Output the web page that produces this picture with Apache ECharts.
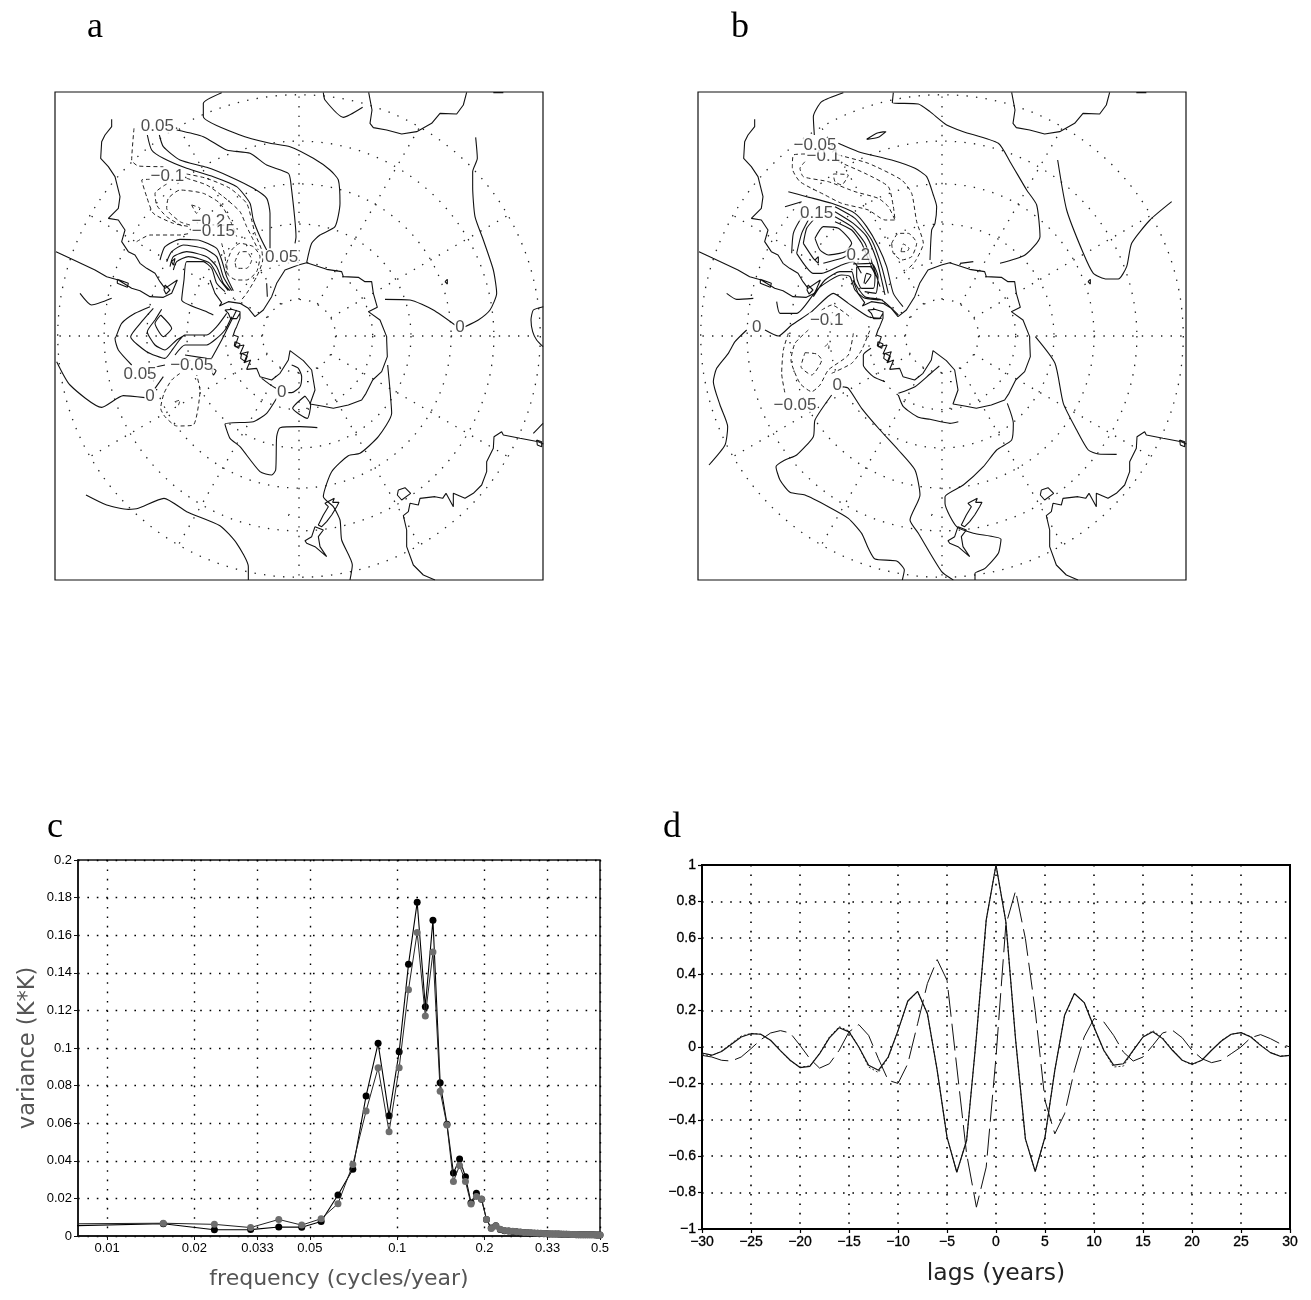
<!DOCTYPE html>
<html><head><meta charset="utf-8">
<style>html,body{margin:0;padding:0;background:#fff}#c{width:1311px;height:1300px}</style>
<script src="https://cdn.jsdelivr.net/npm/echarts@6/dist/echarts.min.js"></script>
</head><body><div id="c"></div>
<script>
// ---- Panels a, b: map plane coordinates (box spans 45..1509 x 36..1500, pole at 777,768)
const coast = [
 [[215,118],[215,140],[195,165],[185,185],[182,235],[205,260],[225,290],[240,350],[235,385],[205,415],[235,420],[255,450],[245,485],[265,515],[285,525],[300,550],[320,565],[345,580],[360,605],[375,625],[412,600],[395,640],[370,652],[330,650],[300,632],[275,625],[235,600],[200,590],[165,570],[90,535],[48,515]],
 [[232,598],[265,610],[262,622],[232,610],[232,598]],
 [[375,615],[390,630],[378,642],[372,630],[375,615]],
 [[510,600],[525,640],[545,668],[538,678],[565,665],[600,670],[625,685],[645,710],[670,690],[695,650],[710,610],[735,570],[775,555],[780,555],[800,548],[860,568],[905,575],[910,590],[955,592],[975,605],[995,605],[1000,640],[1012,682],[985,695],[1020,720],[1040,770],[1040,780],[1042,830],[1025,875],[998,900],[978,940],[965,960],[925,975],[880,985],[845,978],[810,972],[825,930],[815,870],[790,842],[750,812],[745,840],[720,880],[695,900],[660,890],[650,865],[620,868],[632,840],[612,848],[625,815],[600,822],[612,795],[585,800],[595,770],[580,765],[585,750],[590,740],[600,715],[600,695],[575,688],[555,690],[565,700],[572,716],[590,716],[600,700]],
 [[585,785],[600,792],[596,805],[583,797],[585,785]],
 [[605,820],[622,828],[616,845],[602,835],[605,820]],
 [[1510,1092],[1495,1085],[1440,1075],[1390,1065],[1385,1055],[1362,1070],[1360,1105],[1340,1145],[1340,1175],[1325,1215],[1300,1240],[1275,1255],[1240,1240],[1240,1280],[1218,1240],[1208,1255],[1185,1250],[1140,1255],[1135,1275],[1110,1270],[1105,1295],[1090,1307],[1100,1350],[1100,1400],[1120,1455],[1150,1485],[1185,1500]],
 [[1075,1230],[1095,1223],[1112,1240],[1085,1260],[1072,1245],[1075,1230]],
 [[1490,1080],[1505,1085],[1505,1100],[1492,1095],[1490,1080]],
 [[883,1255],[878,1267],[897,1267],[890,1280],[875,1305],[860,1325],[845,1340],[835,1335],[850,1305],[865,1280],[855,1270],[883,1255]],
 [[825,1340],[815,1370],[795,1382],[800,1390],[825,1400],[860,1430],[840,1400],[835,1370],[850,1350],[825,1340]],
 [[986,37],[996,90],[990,130],[1000,143],[1040,150],[1085,162],[1130,155],[1175,130],[1200,100],[1250,102],[1270,75],[1280,37]],
 [[1360,38],[1390,38]],
 [[1215,605],[1222,598],[1222,612],[1215,605]],
 [[745,1307],[748,1302]], [[801,905],[806,905]], [[799,985],[803,985]]
];
const aSolid = [
 [[545,38],[490,70],[490,110],[600,165],[690,190],[750,200],[820,235],[870,270],[895,300],[900,370],[885,440],[840,465],[815,490],[800,548]],
 [[410,150],[490,170],[560,210],[630,220],[680,255],[745,280],[752,305],[768,470],[765,490]],
 [[322,165],[335,210],[370,235],[440,265],[520,290],[590,320],[630,370],[640,420],[660,470],[680,510]],
 [[358,165],[370,200],[420,240],[500,262],[570,290],[640,325],[680,355],[690,400],[690,505]],
 [[680,610],[682,650]],
 [[360,540],[375,500],[420,478],[475,480],[530,505],[545,540],[560,590],[580,632]],
 [[380,545],[395,515],[430,495],[490,505],[530,530],[550,590],[575,632]],
 [[390,560],[400,530],[440,515],[500,530],[530,560],[550,610],[570,632]],
 [[400,570],[410,545],[445,530],[510,550],[540,600],[565,632]],
 [[520,705],[500,695],[425,660],[432,600],[440,545],[490,545],[515,565],[530,610],[555,635]],
 [[395,545],[405,535],[400,555],[395,545]],
 [[120,640],[155,675],[215,655]],
 [[850,38],[855,60],[910,112],[968,82]],
 [[330,680],[285,700],[245,730],[228,770],[225,775],[235,810],[275,855]],
 [[340,685],[305,725],[272,770],[320,815],[375,835],[400,805],[435,765],[500,765],[530,740],[560,700]],
 [[365,688],[345,720],[322,755],[345,795],[375,810],[410,780],[435,765]],
 [[405,825],[435,795],[500,795],[530,775],[555,750],[575,710]],
 [[515,835],[545,780],[560,750],[590,690]],
 [[435,825],[500,835]],
 [[362,705],[395,745],[370,770],[345,730],[362,705]],
 [[350,860],[375,855]], [[345,925],[370,890]],
 [[50,845],[90,915],[185,982],[250,947],[315,953]],
 [[515,865],[528,872],[520,885],[515,865]],
 [[665,895],[685,910],[708,925]],
 [[710,955],[680,1000],[640,1025],[555,1032],[570,1075],[600,1100],[660,1175],[695,1185],[707,1170],[710,1070],[720,1043],[780,1040],[832,1043]],
 [[745,938],[755,938],[780,920],[785,890],[775,865],[755,855]],
 [[795,948],[812,975],[802,1015],[758,985],[795,948]],
 [[138,1245],[200,1275],[265,1288],[295,1285],[372,1255],[440,1295],[540,1337],[590,1390],[625,1460],[625,1500]],
 [[1043,855],[1050,930],[1055,1000],[1015,1070],[960,1120],[925,1127],[875,1175],[850,1250],[880,1280],[900,1320],[905,1380],[937,1455],[930,1500]],
 [[1307,172],[1312,235],[1298,275],[1298,320],[1305,410],[1330,480],[1360,570],[1370,640],[1350,690],[1315,720],[1275,740]],
 [[1245,735],[1180,690],[1110,660],[1035,658]],
 [[1510,680],[1480,690],[1473,720],[1478,755],[1490,780],[1509,800]],
 [[1480,1060],[1509,1030]]
];
const aDashed = [
 [[282,145],[275,240],[295,258],[370,260]],
 [[330,298],[305,300],[320,350],[340,400],[400,430],[450,440]],
 [[440,282],[500,295],[570,325],[620,370],[635,420],[645,460],[665,510],[668,540],[650,590],[620,640],[600,665]],
 [[380,312],[345,340],[350,375],[380,410],[430,440]],
 [[440,295],[500,315],[550,350],[600,395],[620,440],[640,480],[655,510]],
 [[450,435],[420,425],[380,385],[385,355],[420,330],[490,340],[540,370],[570,420],[590,470]],
 [[455,375],[480,385],[470,400],[455,375]],
 [[290,485],[330,465],[420,465],[450,460]],
 [[545,490],[555,530],[560,580]],
 [[585,545],[600,515],[620,515],[635,540],[620,565],[590,565],[585,545]],
 [[560,550],[575,510],[600,490],[640,500],[660,530],[650,575],[620,600],[590,600],[565,585],[560,550]],
 [[420,880],[395,900],[372,940],[362,985],[375,1010],[410,1038],[460,1035],[480,930],[470,885]],
 [[405,965],[420,960],[415,975],[405,965]]
];
const aLabels = [[352,140,'0.05'],[382,288,'\u22120.1'],[505,425,'\u22120.2'],[520,455,'\u22120.15'],[725,533,'0.05'],[1260,742,'0'],[300,882,'0.05'],[455,857,'\u22120.05'],[330,950,'0'],[725,937,'0']];

const bSolid = [
 [[481,38],[416,65],[391,110],[394,165]],
 [[466,190],[526,215],[626,240],[696,265],[731,290],[751,345],[761,380],[756,430],[746,450],[741,540]],
 [[831,550],[871,545]],
 [[631,38],[628,68],[706,72],[741,95],[791,135],[841,155],[946,190],[981,245],[1031,330],[1061,375],[1071,470],[1026,525],[951,550]],
 [[551,178],[581,160],[609,155],[586,172],[551,178]],
 [[316,335],[371,350],[446,370],[516,400],[551,440],[586,500],[611,560],[631,640],[660,680]],
 [[306,380],[356,365]],
 [[456,380],[516,415],[566,480],[596,560],[616,640]],
 [[456,395],[511,430],[551,470],[581,540],[596,600],[606,645]],
 [[456,410],[506,440],[546,490],[571,560],[591,620]],
 [[456,425],[506,450],[536,490],[561,550],[581,590]],
 [[326,520],[331,460],[351,420],[361,410]],
 [[341,520],[356,460],[376,420]],
 [[361,490],[371,445],[391,420]],
 [[396,475],[421,440],[466,445],[506,490],[486,515],[436,525],[411,510],[396,475]],
 [[361,490],[391,535],[406,550],[406,530],[396,540]],
 [[421,550],[476,535],[496,525]],
 [[341,520],[391,580],[416,580],[476,555],[510,545],[535,580]],
 [[391,650],[426,600],[471,575],[506,575],[516,610],[546,650],[596,660],[646,705]],
 [[521,560],[561,560],[576,585],[571,625],[536,625],[521,590],[521,560]],
 [[543,610],[551,580],[564,585],[546,612]],
 [[510,552],[565,550],[585,590],[578,640],[545,635]],
 [[281,665],[291,700],[341,700],[406,625],[476,585],[501,590],[516,630],[546,655],[600,660]],
 [[246,750],[286,768],[326,735],[386,695],[451,640],[496,670],[556,710],[596,715]],
 [[191,750],[156,785],[136,820],[101,865],[91,905],[111,975],[134,1040],[126,1095],[78,1155]],
 [[476,920],[496,925],[536,985],[591,1050],[646,1110],[696,1170],[711,1245],[681,1320],[706,1360],[776,1475],[811,1500]],
 [[446,945],[396,1020],[391,1070],[341,1125],[306,1140],[279,1160],[291,1200],[321,1237],[366,1245],[436,1280],[496,1315],[536,1360],[556,1405],[576,1437],[641,1443],[664,1470],[658,1500]],
 [[564,805],[541,825],[541,855],[571,890],[606,905]],
 [[646,940],[696,920],[741,882],[769,858]],
 [[646,945],[661,980],[706,1012],[741,1018],[801,1030],[826,1025]],
 [[973,970],[991,1030],[986,1080],[941,1110],[901,1160],[841,1215],[786,1250],[786,1270],[821,1340],[871,1360],[954,1378],[946,1420],[906,1465],[876,1480],[876,1500]],
 [[1124,240],[1151,390],[1201,520],[1231,580],[1271,597],[1306,597],[1331,560],[1346,490],[1401,420],[1466,365]],
 [[1057,770],[1116,850],[1141,970],[1181,1050],[1216,1110],[1246,1122],[1301,1123]],
 [[131,640],[161,658],[211,655]]
];
const bDashed = [
 [[366,222],[331,225],[328,265],[351,305],[426,345],[476,370],[556,390],[606,420],[636,420]],
 [[466,225],[556,250],[656,300],[686,340],[701,425],[721,490],[696,545],[671,570]],
 [[366,245],[351,265],[361,290],[436,305],[516,335],[586,355],[616,380],[636,420],[631,380],[616,320],[546,280],[466,245]],
 [[451,282],[496,285],[476,315],[456,305],[451,282]],
 [[626,490],[646,460],[676,460],[701,490],[686,530],[656,540],[631,520],[626,490]],
 [[654,515],[661,492],[678,505],[671,515],[654,515]],
 [[416,690],[446,675],[506,715]],
 [[316,760],[301,810],[296,880],[306,940]],
 [[446,880],[506,850],[536,810],[561,750]],
 [[376,750],[336,790],[324,840],[351,910],[386,935],[411,915],[436,870],[496,825],[511,760]],
 [[366,818],[401,822],[416,840],[386,885],[354,860],[366,818]],
 [[426,800],[436,790],[438,805],[426,800]]
];
const bLabels = [[421,228,'\u22120.1'],[396,195,'\u22120.05'],[401,400,'0.15'],[526,525,'0.2'],[431,720,'\u22120.1'],[221,742,'0'],[463,915,'0'],[336,975,'\u22120.05']];

// ---- Panel c: spectra at harmonics of 1/128 cycles per year
const harmonics = [1,2,3,4,5,6,7,8,9,10,11,12,13,14,15,16,17,18,19,20,21,22,23,24,25,26,27,28,29,30,31,32,33,34,35,36,37,38,39,40,41,42,43,44,45,46,47,48,49,50,51,52,53,54,55,56,57,58,59,60,61,62,63,64];
const varianceBlack = [.0055,.0065,.0033,.0034,.0048,.0047,.0077,.0218,.0355,.0745,.1025,.064,.098,.1445,.1775,.122,.168,.0815,.0595,.0335,.041,.0315,.0177,.0228,.0195,.0088,.0042,.0055,.0035,.0028,.0026,.0024,.0022,.002,.0018,.0017,.0016,.0015,.0014,.0013,.0012,.0012,.0011,.0011,.001,.001,.0009,.0009,.0009,.0008,.0008,.0008,.0007,.0007,.0007,.0007,.0006,.0006,.0006,.0006,.0006,.0005,.0005,.0005];
const varianceGray = [.0065,.0068,.0062,.0045,.0088,.0058,.0092,.0172,.038,.0665,.0895,.0555,.0895,.131,.1615,.117,.151,.077,.059,.029,.0375,.029,.017,.021,.0197,.0088,.004,.0055,.0036,.0029,.0027,.0025,.0023,.0021,.0019,.0018,.0017,.0016,.0015,.0014,.0013,.0012,.0012,.0011,.0011,.001,.001,.0009,.0009,.0009,.0008,.0008,.0008,.0007,.0007,.0007,.0007,.0006,.0006,.0006,.0006,.0006,.0005,.0005];
const freqTicks = [0.01,0.02,0.033,0.05,0.1,0.2,0.33,0.5];

// ---- Panel d: correlations by lag
const lags = [-30,-29,-28,-27,-26,-25,-24,-23,-22,-21,-20,-19,-18,-17,-16,-15,-14,-13,-12,-11,-10,-9,-8,-7,-6,-5,-4,-3,-2,-1,0,1,2,3,4,5,6,7,8,9,10,11,12,13,14,15,16,17,18,19,20,21,22,23,24,25,26,27,28,29,30];
const corrSolid = [-.033,-.045,-.025,.015,.055,.073,.07,.037,-.02,-.073,-.113,-.106,-.037,.05,.106,.083,0,-.1,-.128,-.055,.09,.253,.306,.183,-.128,-.495,-.688,-.514,.055,.697,1,.69,.04,-.505,-.684,-.495,-.128,.174,.294,.244,.11,-.018,-.1,-.092,-.018,.055,.084,.046,-.018,-.073,-.095,-.073,-.018,.033,.07,.079,.055,.009,-.031,-.051,-.046];
const corrThin = [-.042,-.048,-.022,.02,.06,.075,.07,.035,-.02,-.075,-.11,-.104,-.035,.055,.112,.088,0,-.11,-.14,-.06,.09,.25,.304,.183,-.128,-.495,-.688,-.514,.055,.697,1,.69,.04,-.505,-.684,-.495,-.128,.174,.294,.244,.105,-.02,-.11,-.105,-.02,.055,.09,.05,-.015,-.073,-.098,-.073,-.018,.036,.07,.079,.058,.012,-.03,-.05,-.046];
const corrDashed = [-.046,-.055,-.073,-.077,-.055,-.009,.04,.077,.09,.077,.009,-.064,-.116,-.092,-.018,.083,.123,.064,-.064,-.183,-.2,-.092,.128,.349,.48,.367,-.11,-.587,-.88,-.66,-.055,.67,.858,.596,.2,-.294,-.477,-.367,-.128,.055,.156,.138,.064,-.028,-.077,-.055,.009,.077,.092,.051,-.018,-.064,-.086,-.073,-.037,0,.051,.068,.046,.018,0];

const panelLetters = [['a',95,28],['b',740,28],['c',55,828],['d',672,828]];

// ---- Build
const broken = ls => { const o=[]; ls.forEach(l=>{ l.forEach(p=>o.push(p)); o.push([null,null]); }); return o; };
const POLE=[777,768], R=1254, EDGE=732;
function graticule(){
  const out=[], rad=c=>R*Math.tan(c*Math.PI/360);
  for(let c=10;c<=60;c+=10){ const l=[]; for(let a=0;a<=360;a+=3){ const t=a*Math.PI/180; l.push([POLE[0]+rad(c)*Math.cos(t),POLE[1]+rad(c)*Math.sin(t)]); } out.push(l); }
  for(let a=0;a<360;a+=30){ const t=a*Math.PI/180, end=a%90===0?EDGE:rad(60);
    out.push([[POLE[0]+rad(10)*Math.cos(t),POLE[1]+rad(10)*Math.sin(t)],[POLE[0]+end*Math.cos(t),POLE[1]+end*Math.sin(t)]]); }
  return out;
}
const lineBase={type:'line',showSymbol:false,symbol:'none',silent:true,animation:false};
function mapSeries(idx,solid,dashed,labels){
  const s=[
   {...lineBase,xAxisIndex:idx,yAxisIndex:idx,z:2,data:broken(graticule()),lineStyle:{color:'#222',width:1.3,type:[1.4,8.2]}},
   {...lineBase,xAxisIndex:idx,yAxisIndex:idx,z:3,data:broken(coast),lineStyle:{color:'#111',width:1.1}},
   {...lineBase,xAxisIndex:idx,yAxisIndex:idx,z:3,smooth:0.2,data:broken(solid),lineStyle:{color:'#111',width:1.1}},
   {...lineBase,xAxisIndex:idx,yAxisIndex:idx,z:3,smooth:0.2,data:broken(dashed),lineStyle:{color:'#222',width:1,type:[4,3]}},
   {type:'scatter',xAxisIndex:idx,yAxisIndex:idx,z:6,symbolSize:0,silent:true,animation:false,
    labelLayout:{hideOverlap:false},
    data:labels.map(l=>({value:[l[0],l[1]],label:{show:true,position:'inside',formatter:l[2],color:'#222',fontFamily:'Liberation Sans',fontSize:17,backgroundColor:'#fff',padding:[0,1],lineHeight:15}}))}
  ];
  return s;
}
const hiddenX={type:'value',min:45,max:1509,show:false};
const hiddenY={type:'value',min:36,max:1500,inverse:true,show:false};
const dots=w=>({show:true,lineStyle:{color:'#000',width:w,type:[1.6,7.8]}});
const tickFont={color:'#000',fontFamily:'Liberation Sans',fontSize:13};
const tickFontD={...tickFont,fontSize:14,textBorderColor:'#000',textBorderWidth:0.3};
const fmtMinus=v=>String(+(+v).toFixed(3)).replace('-','\u2212');
const freqs=harmonics.map(k=>k/128);

const option={
 animation:false,backgroundColor:'#fff',
 grid:[
  {left:55,top:92,width:488,height:488,show:true,borderColor:'#111',borderWidth:1.2,backgroundColor:'#fff'},
  {left:698,top:92,width:488,height:488,show:true,borderColor:'#111',borderWidth:1.2,backgroundColor:'#fff'},
  {left:78,top:860,width:522,height:376,show:true,borderColor:'#111',borderWidth:1.5,backgroundColor:'#fff'},
  {left:702,top:865,width:588,height:364,show:true,borderColor:'#000',borderWidth:2,backgroundColor:'#fff'}
 ],
 xAxis:[
  {...hiddenX,gridIndex:0},{...hiddenX,gridIndex:1},
  {type:'log',logBase:10,gridIndex:2,min:0.00794,max:0.5,
   axisLine:{show:true,lineStyle:{color:'#111',width:1.5}},
   axisTick:{show:true,length:4,customValues:freqTicks,lineStyle:{color:'#111'}},
   axisLabel:{...tickFont,margin:6,customValues:freqTicks,formatter:v=>String(+(+v).toFixed(3))},
   minorTick:{show:false},minorSplitLine:{show:false},splitLine:dots(1.4),
   name:'frequency (cycles/year)',nameLocation:'middle',nameGap:32,
   nameTextStyle:{fontFamily:'DejaVu Sans',fontSize:22,color:'#555'}},
  {type:'value',gridIndex:3,min:-30,max:30,interval:5,
   axisLine:{show:true,onZero:false,lineStyle:{color:'#000',width:2}},
   axisTick:{show:true,length:4,lineStyle:{color:'#000',width:1.2}},
   axisLabel:{...tickFontD,margin:6,showMinLabel:true,showMaxLabel:true,formatter:fmtMinus},
   splitLine:dots(1.6),
   name:'lags (years)',nameLocation:'middle',nameGap:33,
   nameTextStyle:{fontFamily:'DejaVu Sans',fontSize:23.5,color:'#222'}}
 ],
 yAxis:[
  {...hiddenY,gridIndex:0},{...hiddenY,gridIndex:1},
  {type:'value',gridIndex:2,min:0,max:0.2,interval:0.02,
   axisLine:{show:true,lineStyle:{color:'#111',width:1.5}},
   axisTick:{show:true,length:4,lineStyle:{color:'#111'}},
   axisLabel:{...tickFont,margin:6,showMinLabel:true,showMaxLabel:true,formatter:fmtMinus},
   splitLine:dots(1.4),
   name:'variance (K*K)',nameLocation:'middle',nameGap:38,nameRotate:90,
   nameTextStyle:{fontFamily:'DejaVu Sans',fontSize:22.5,color:'#555'}},
  {type:'value',gridIndex:3,min:-1,max:1,interval:0.2,
   axisLine:{show:true,onZero:false,lineStyle:{color:'#000',width:2}},
   axisTick:{show:true,length:4,lineStyle:{color:'#000',width:1.2}},
   axisLabel:{...tickFontD,margin:6,showMinLabel:true,showMaxLabel:true,formatter:fmtMinus},
   splitLine:dots(1.6)}
 ],
 series:[
  ...mapSeries(0,aSolid,aDashed,aLabels),
  ...mapSeries(1,bSolid,bDashed,bLabels),
  {type:'line',xAxisIndex:2,yAxisIndex:2,z:4,silent:true,animation:false,data:freqs.map((f,i)=>[f,varianceBlack[i]]),symbol:'circle',symbolSize:7,showAllSymbol:true,lineStyle:{color:'#000',width:1.1},itemStyle:{color:'#000'}},
  {type:'line',xAxisIndex:2,yAxisIndex:2,z:5,silent:true,animation:false,data:freqs.map((f,i)=>[f,varianceGray[i]]),symbol:'circle',symbolSize:7,showAllSymbol:true,lineStyle:{color:'#222',width:1},itemStyle:{color:'#6e6e6e'}},
  {...lineBase,xAxisIndex:3,yAxisIndex:3,z:3,data:lags.map((l,i)=>[l,corrThin[i]]),lineStyle:{color:'#333',width:1,type:[2,2]}},
  {...lineBase,xAxisIndex:3,yAxisIndex:3,z:4,data:lags.map((l,i)=>[l,corrSolid[i]]),lineStyle:{color:'#111',width:1.2}},
  {...lineBase,xAxisIndex:3,yAxisIndex:3,z:4,data:lags.map((l,i)=>[l,corrDashed[i]]),lineStyle:{color:'#111',width:1,type:[27,7]}}
 ],
 graphic:panelLetters.map(p=>({type:'text',x:p[1],y:p[2],silent:true,style:{text:p[0],fill:'#000',font:'36px "Liberation Serif"',textAlign:'center',textVerticalAlign:'middle'}}))
};
const chart=echarts.init(document.getElementById('c'),null,{renderer:'canvas'});
chart.setOption(option);
</script></body></html>
